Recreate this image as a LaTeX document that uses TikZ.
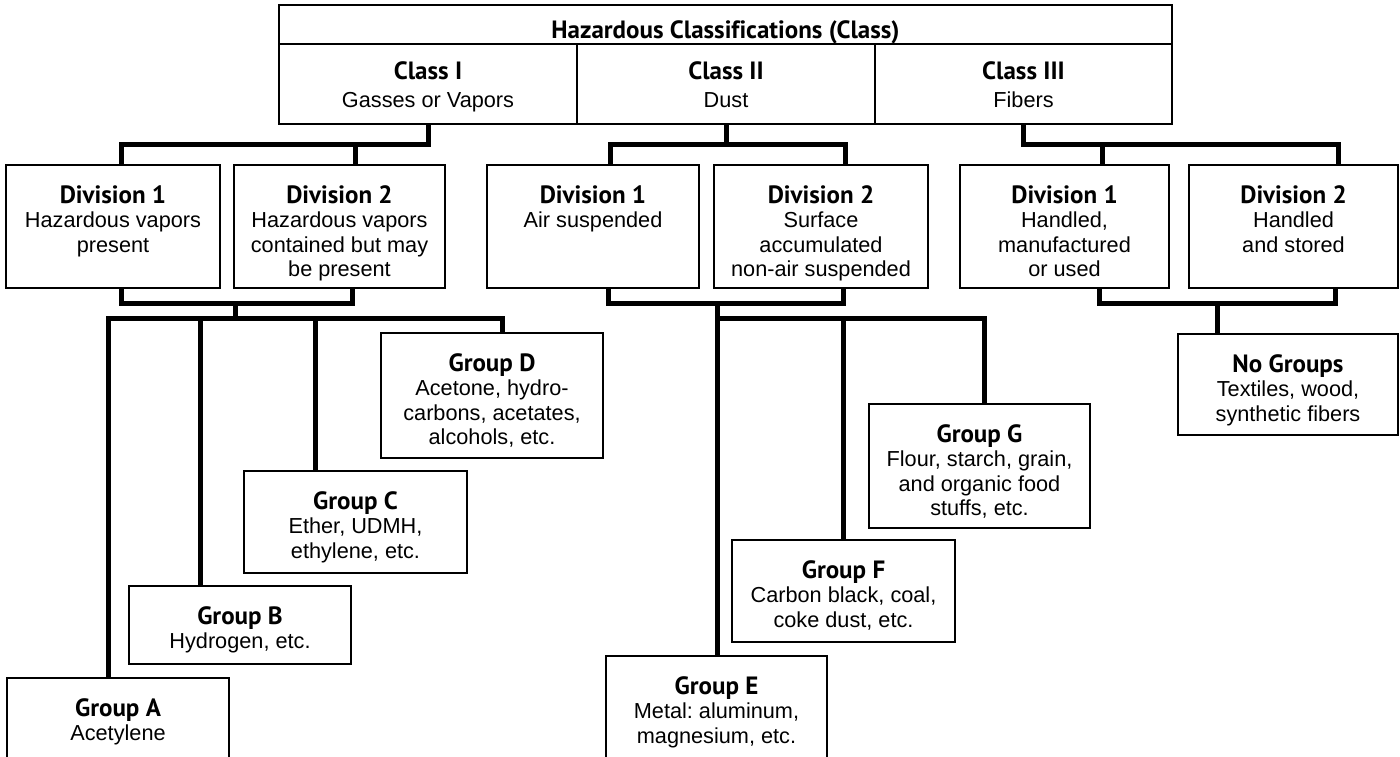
\documentclass[tikz,border=0pt]{standalone}
\usepackage{fontspec}
\setmainfont{Liberation Sans}
\newfontfamily\hfont[Ligatures=NoCommon]{PT Sans}
\usetikzlibrary{calc}
\frenchspacing
\newcommand{\hd}[1]{{\hfont\bfseries\fontsize{25}{24.5}\selectfont #1}}
\newcommand{\bodyf}{\fontsize{21.7}{24.5}\selectfont\frenchspacing}
% box from (x1,y1) to (x2,y2), y measured downwards
\newcommand{\bx}[5]{\node[box, minimum width={#4-#2}, minimum height={#5-#3}, anchor=north west] (#1) at (#2,#3) {};}
\begin{document}
\begin{tikzpicture}[x=1pt,y=-1pt,
  box/.style={draw, line width=2.7pt, inner sep=0pt, outer sep=0pt},
  conn/.style={line width=5pt},
  txt/.style={align=center, inner sep=0pt, anchor=north, font=\bodyf}]
\clip (0,0) rectangle (1400,757);
\fill[white] (0,0) rectangle (1400,757);

% top table
\bx{title}{279}{5}{1172}{44}
\bx{c1}{279}{44}{577}{124}
\bx{c2}{577}{44}{875}{124}
\bx{c3}{875}{44}{1172}{124}
\node[txt] (titlet) at ($(title.north)+(0,15)$) {\hd{Hazardous Classifications (Class)}};
\node[txt] (c1t) at ($(c1.north)+(0,17)$) {\hd{Class I}\\[4pt]Gasses or Vapors};
\node[txt] (c2t) at ($(c2.north)+(0,17)$) {\hd{Class II}\\[4pt]Dust};
\node[txt] (c3t) at ($(c3.north)+(0,17)$) {\hd{Class III}\\[4pt]Fibers};

% divisions
\bx{d11}{6}{165}{220}{288}
\bx{d12}{234}{165}{445}{288}
\bx{d21}{487}{165}{699}{288}
\bx{d22}{714}{165}{928}{288}
\bx{d31}{960}{165}{1169}{288}
\bx{d32}{1189}{165}{1398}{288}
\node[txt] (d11t) at ($(d11.north)+(0,20)$) {\hd{Division 1}\\Hazardous vapors\\present};
\node[txt] (d12t) at ($(d12.north)+(0,20)$) {\hd{Division 2}\\Hazardous vapors\\contained but may\\be present};
\node[txt] (d21t) at ($(d21.north)+(0,20)$) {\hd{Division 1}\\Air suspended};
\node[txt] (d22t) at ($(d22.north)+(0,20)$) {\hd{Division 2}\\Surface\\accumulated\\non-air suspended};
\node[txt] (d31t) at ($(d31.north)+(0,20)$) {\hd{Division 1}\\Handled,\\manufactured\\or used};
\node[txt] (d32t) at ($(d32.north)+(0,20)$) {\hd{Division 2}\\Handled\\and stored};

% groups
\bx{gA}{7}{678}{229}{762}
\bx{gB}{129}{586}{351}{664}
\bx{gC}{244}{471}{467}{573}
\bx{gD}{381}{333}{603}{458}
\bx{gE}{606}{656}{827}{762}
\bx{gF}{732}{540}{955}{642}
\bx{gG}{869}{404}{1090}{528}
\bx{gN}{1178}{334}{1398}{435}
\node[txt] (gAt) at ($(gA.north)+(0,20)$) {\hd{Group A}\\Acetylene};
\node[txt] (gBt) at ($(gB.north)+(0,20)$) {\hd{Group B}\\Hydrogen, etc.};
\node[txt] (gCt) at ($(gC.north)+(0,20)$) {\hd{Group C}\\Ether, UDMH,\\ethylene, etc.};
\node[txt] (gDt) at ($(gD.north)+(0,20)$) {\hd{Group D}\\Acetone, hydro-\\carbons, acetates,\\alcohols, etc.};
\node[txt] (gEt) at ($(gE.north)+(0,20)$) {\hd{Group E}\\Metal: aluminum,\\magnesium, etc.};
\node[txt] (gFt) at ($(gF.north)+(0,20)$) {\hd{Group F}\\Carbon black, coal,\\coke dust, etc.};
\node[txt] (gGt) at ($(gG.north)+(0,20)$) {\hd{Group G}\\Flour, starch, grain,\\and organic food\\stuffs, etc.};
\node[txt] (gNt) at ($(gN.north)+(0,20)$) {\hd{No Groups}\\Textiles, wood,\\synthetic fibers};

% bracket coordinates
\coordinate (t1a) at (121,145); \coordinate (t1b) at (355,145);
\coordinate (t2a) at (610,145); \coordinate (t2b) at (845,145);
\coordinate (t3a) at (1102,145); \coordinate (t3b) at (1338,145);
\coordinate (u1a) at (121,303); \coordinate (u1b) at (352,303); \coordinate (u1c) at (235,303);
\coordinate (u2a) at (608,303); \coordinate (u2b) at (843,303); \coordinate (u2c) at (717,303);
\coordinate (u3a) at (1099,303); \coordinate (u3b) at (1335,303); \coordinate (u3c) at (1217,303);
\coordinate (pA) at (108,318); \coordinate (pB) at (200,318); \coordinate (pC) at (315,318); \coordinate (pD) at (502,318);
\coordinate (pE) at (717,318); \coordinate (pF) at (843,318); \coordinate (pG) at (984,318);

% class -> divisions
\draw[conn] (c1.south) |- (t1a) -- (t1a |- d11.north);
\draw[conn] (t1b) -- (t1b |- d12.north);
\draw[conn] (t2a |- d21.north) -- (t2a) -- (t2b) -- (t2b |- d22.north);
\draw[conn] (c2.south) -- (c2.south |- t2a);
\draw[conn] (c3.south) |- (t3b) -- (t3b |- d32.north);
\draw[conn] (t3a) -- (t3a |- d31.north);

% divisions -> groups
\draw[conn] (u1a |- d11.south) -- (u1a) -- (u1b) -- (u1b |- d12.south);
\draw[conn] (u1c) -- (u1c |- pA);
\draw[conn] (pA |- gA.north) -- (pA) -- (pD) -- (pD |- gD.north);
\draw[conn] (pB) -- (pB |- gB.north);
\draw[conn] (pC) -- (pC |- gC.north);

\draw[conn] (u2a |- d21.south) -- (u2a) -- (u2b) -- (u2b |- d22.south);
\draw[conn] (u2c) -- (u2c |- pE);
\draw[conn] (pE |- gE.north) -- (pE) -- (pG) -- (pG |- gG.north);
\draw[conn] (pF) -- (pF |- gF.north);

\draw[conn] (u3a |- d31.south) -- (u3a) -- (u3b) -- (u3b |- d32.south);
\draw[conn] (u3c) -- (u3c |- gN.north);
\end{tikzpicture}
\end{document}
